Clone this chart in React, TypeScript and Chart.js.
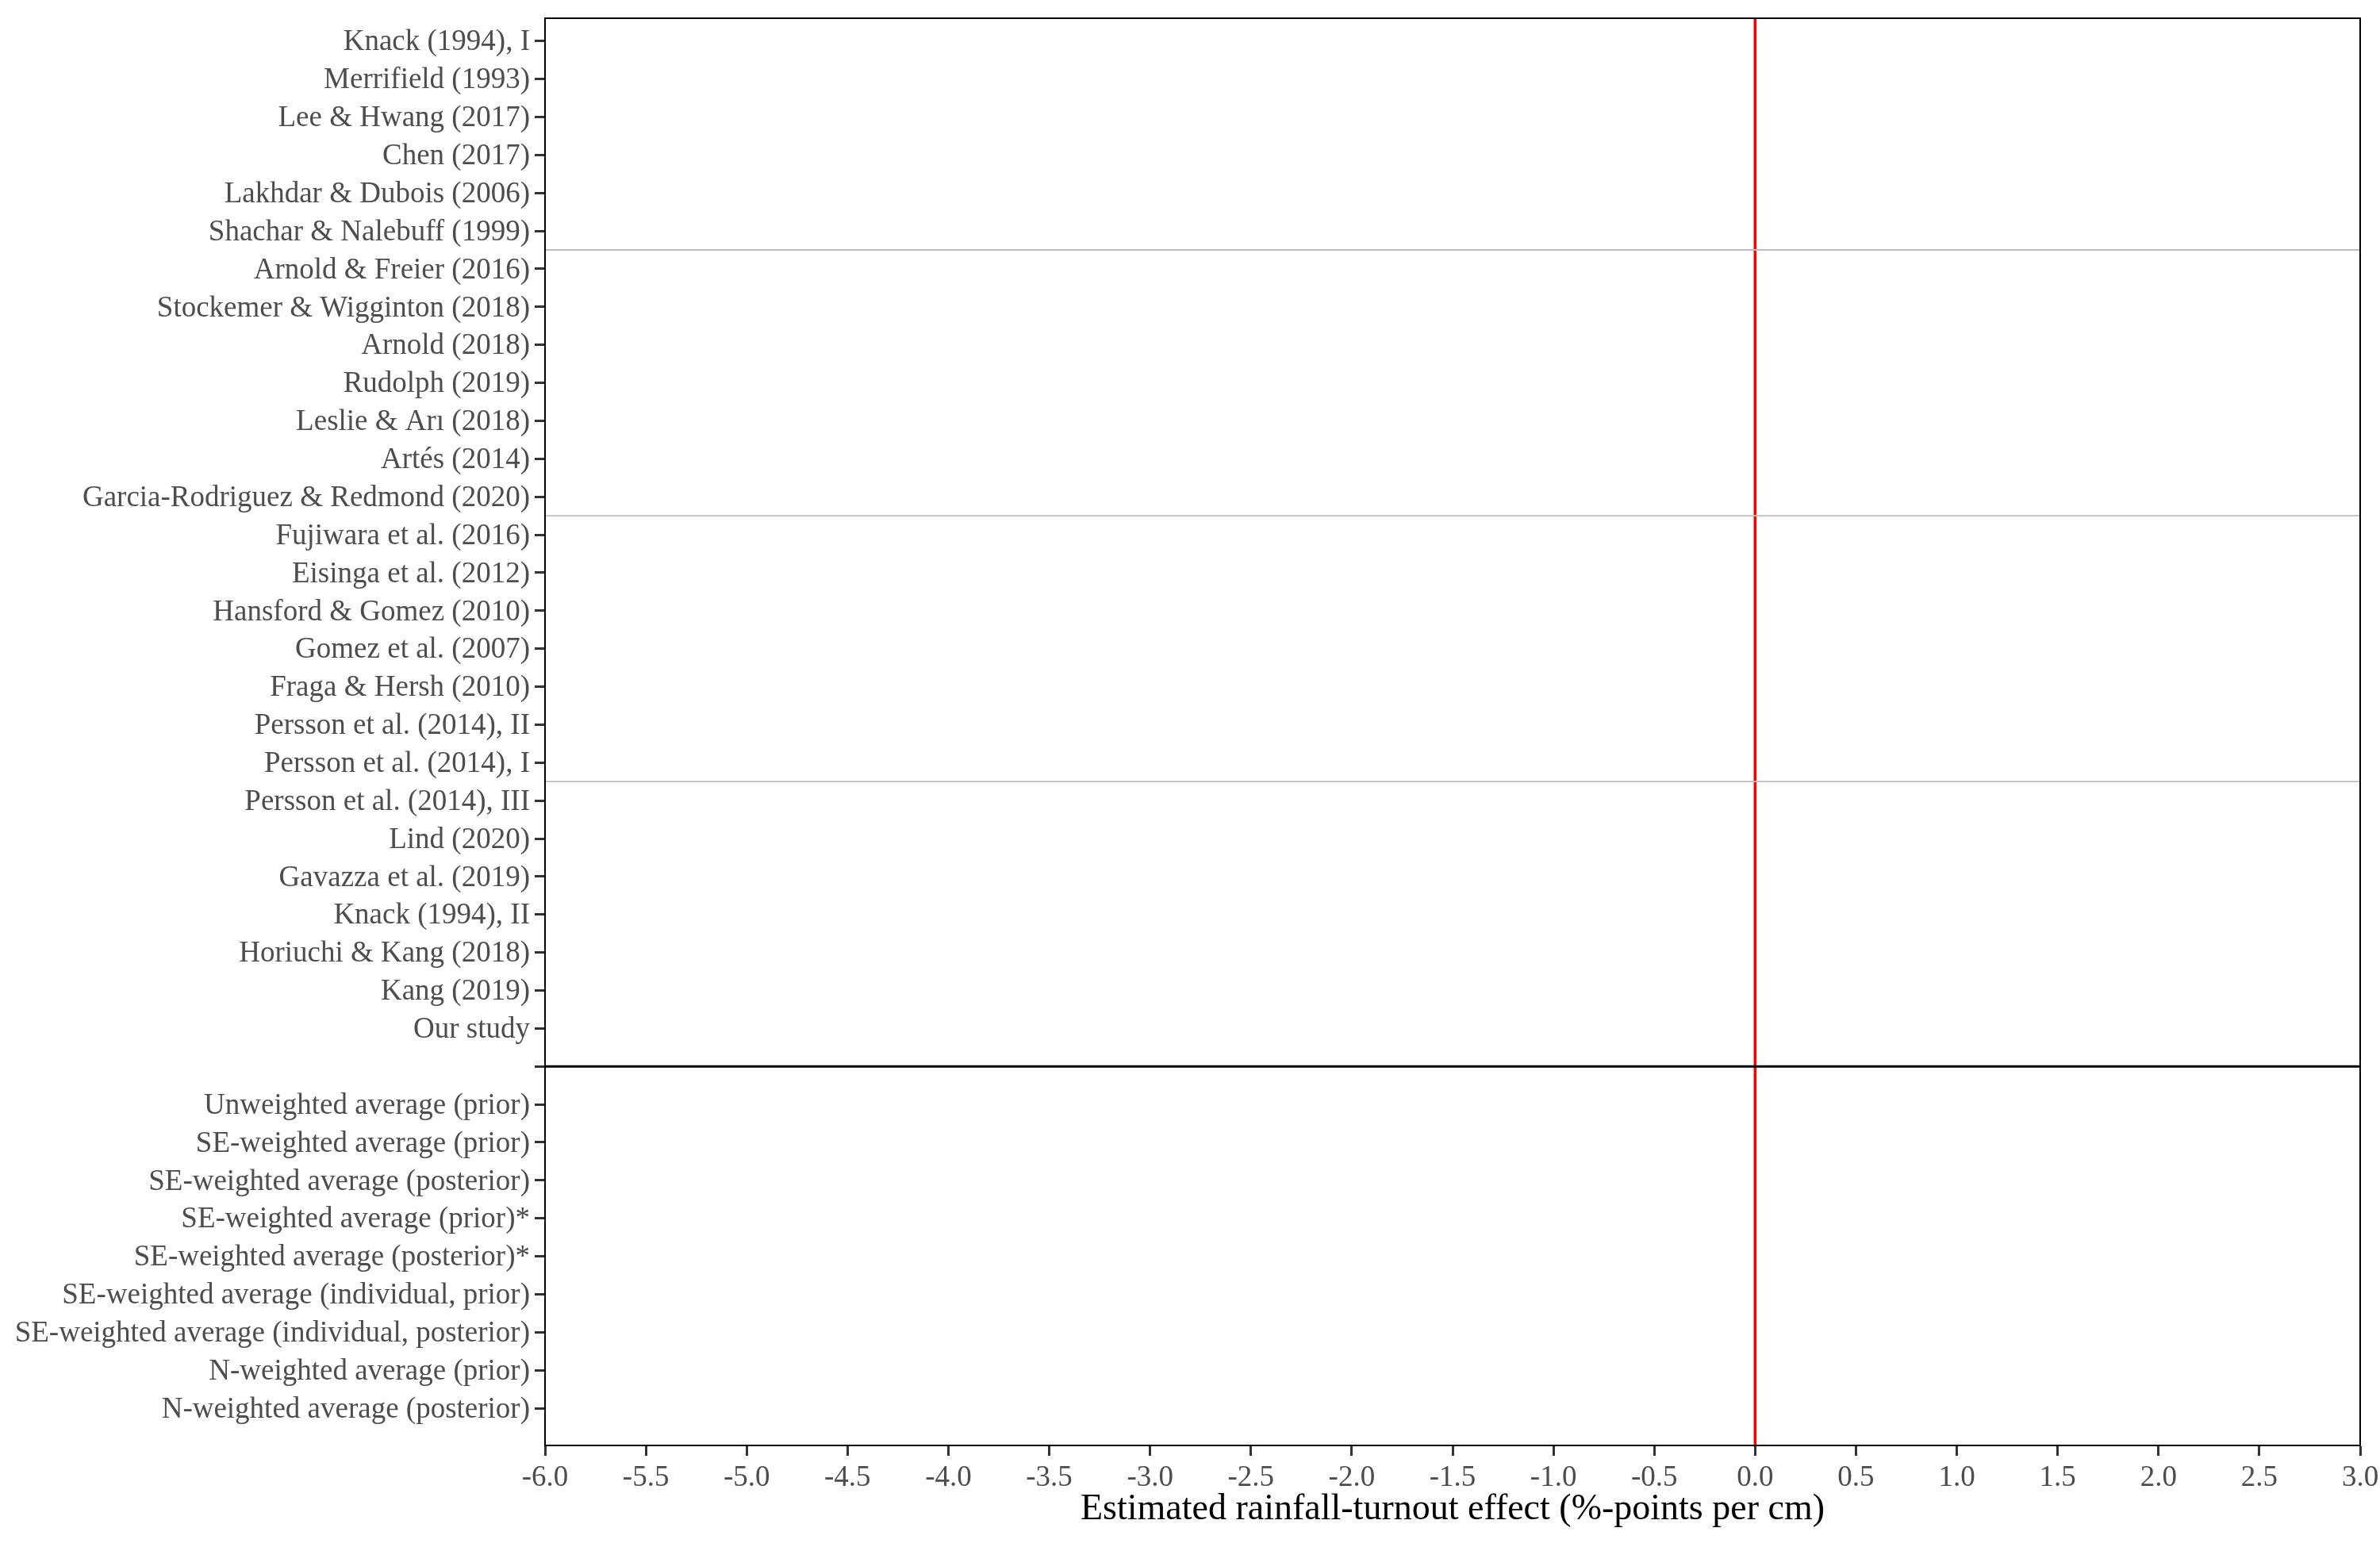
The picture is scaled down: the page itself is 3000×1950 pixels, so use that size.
import React, { useEffect, useRef } from "react";
import { Chart, registerables } from "chart.js";

Chart.register(...registerables);

const studies: string[] = [
  "Knack (1994), I",
  "Merrifield (1993)",
  "Lee & Hwang (2017)",
  "Chen (2017)",
  "Lakhdar & Dubois (2006)",
  "Shachar & Nalebuff (1999)",
  "Arnold & Freier (2016)",
  "Stockemer & Wigginton (2018)",
  "Arnold (2018)",
  "Rudolph (2019)",
  "Leslie & Arı (2018)",
  "Artés (2014)",
  "Garcia-Rodriguez & Redmond (2020)",
  "Fujiwara et al. (2016)",
  "Eisinga et al. (2012)",
  "Hansford & Gomez (2010)",
  "Gomez et al. (2007)",
  "Fraga & Hersh (2010)",
  "Persson et al. (2014), II",
  "Persson et al. (2014), I",
  "Persson et al. (2014), III",
  "Lind (2020)",
  "Gavazza et al. (2019)",
  "Knack (1994), II",
  "Horiuchi & Kang (2018)",
  "Kang (2019)",
  "Our study",
];

const averages: string[] = [
  "Unweighted average (prior)",
  "SE-weighted average (prior)",
  "SE-weighted average (posterior)",
  "SE-weighted average (prior)*",
  "SE-weighted average (posterior)*",
  "SE-weighted average (individual, prior)",
  "SE-weighted average (individual, posterior)",
  "N-weighted average (prior)",
  "N-weighted average (posterior)",
];

const categories: string[] = [...studies, "", ...averages];
const positions: number[] = categories.map((_, i) => i + 1);

const xMin = -6;
const xMax = 3;
const xStep = 0.5;
const yMin = 0.4;
const yMax = 37.98;

const zeroEffect = 0;
const groupBreaks: number[] = [6.5, 13.5, 20.5];
const summaryDivider = 28;

const FONT = "'Liberation Serif', 'Times New Roman', Times, serif";

export default function App() {
  const canvasRef = useRef<HTMLCanvasElement | null>(null);

  useEffect(() => {
    const canvas = canvasRef.current;
    if (!canvas) return;

    const frame = {
      id: "frame",
      afterDatasetsDraw(chart: any) {
        const { ctx, chartArea } = chart;
        ctx.save();
        ctx.strokeStyle = "#000000";
        ctx.lineWidth = 2;
        ctx.strokeRect(chartArea.left, chartArea.top, chartArea.right - chartArea.left, chartArea.bottom - chartArea.top);
        ctx.restore();
      },
    };

    const datasets: any[] = [
      ...groupBreaks.map((b) => ({
        data: [
          { x: xMin, y: b },
          { x: xMax, y: b },
        ],
        borderColor: "#BEBEBE",
        borderWidth: 1.8,
      })),
      {
        data: [
          { x: xMin, y: summaryDivider },
          { x: xMax, y: summaryDivider },
        ],
        borderColor: "#000000",
        borderWidth: 3,
      },
      {
        data: [
          { x: zeroEffect, y: yMin },
          { x: zeroEffect, y: yMax },
        ],
        borderColor: "#FF0000",
        borderWidth: 3.5,
      },
    ].map((d) => ({ ...d, showLine: true, pointRadius: 0, fill: false }));

    const chart = new Chart(canvas, {
      type: "scatter",
      data: { datasets },
      plugins: [frame],
      options: {
        responsive: false,
        animation: false,
        layout: { padding: { top: 23, right: 25, left: 0, bottom: 0 } },
        plugins: {
          legend: { display: false },
          tooltip: { enabled: false },
        },
        scales: {
          x: {
            type: "linear",
            min: xMin,
            max: xMax,
            ticks: {
              stepSize: xStep,
              autoSkip: false,
              maxRotation: 0,
              padding: 6,
              color: "#4D4D4D",
              font: { family: FONT, size: 37 },
              callback: (v: any) => Number(v).toFixed(1),
            },
            grid: {
              drawOnChartArea: false,
              drawTicks: true,
              tickLength: 13,
              tickWidth: 3,
              tickColor: "#333333",
            },
            border: { color: "#000000", width: 2 },
            title: {
              display: true,
              text: "Estimated rainfall-turnout effect (%-points per cm)",
              color: "#000000",
              font: { family: FONT, size: 46 },
              padding: { top: 0, bottom: 19 },
            },
            afterFit: (scale: any) => {
              scale.height = 128;
              scale.paddingLeft = 0;
              scale.paddingRight = 0;
            },
          },
          y: {
            type: "linear",
            reverse: true,
            min: yMin,
            max: yMax,
            afterBuildTicks: (scale: any) => {
              scale.ticks = positions.map((p) => ({ value: p }));
            },
            ticks: {
              autoSkip: false,
              padding: 6,
              labelOffset: 2,
              color: "#4D4D4D",
              font: { family: FONT, size: 37 },
              callback: (v: any) => categories[Math.round(Number(v)) - 1] ?? "",
            },
            grid: {
              drawOnChartArea: false,
              drawTicks: true,
              tickLength: 13,
              tickWidth: 3,
              tickColor: "#333333",
            },
            border: { color: "#000000", width: 2 },
            afterFit: (scale: any) => {
              scale.width = 687;
              scale.paddingTop = 0;
              scale.paddingBottom = 0;
            },
          },
        },
      },
    } as any);

    return () => chart.destroy();
  }, []);

  return (
    <div style={{ position: "absolute", left: 0, top: 0, width: 3000, height: 1950, background: "#ffffff" }}>
      <canvas ref={canvasRef} width={3000} height={1950} style={{ width: 3000, height: 1950, display: "block" }} />
    </div>
  );
}
